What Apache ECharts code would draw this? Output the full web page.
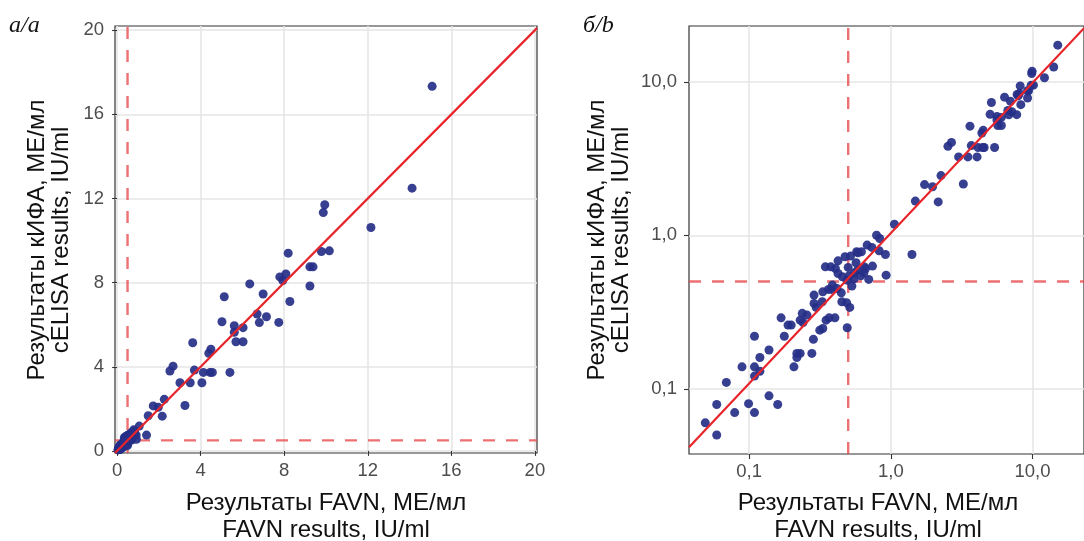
<!DOCTYPE html>
<html>
<head>
<meta charset="utf-8">
<script src="https://cdn.jsdelivr.net/npm/echarts@6/dist/echarts.min.js"></script>
<style>
  html, body { margin: 0; padding: 0; background: #ffffff; }
  #chart { width: 1084px; height: 541px; }
</style>
</head>
<body>
<div id="chart"></div>
<script>
// FAVN (x) vs cELISA (y) results, IU/ml — one sample per index
const favn = [
  15.08, 14.12, 9.94, 9.87, 12.15, 8.19, 9.78, 10.16, 9.23, 9.38,
  7.79, 8.08, 7.93, 6.35, 9.23, 6.99, 5.13, 8.27, 6.70, 7.15,
  6.81, 7.74, 5.02, 5.61, 6.03, 5.61, 5.69, 6.03, 3.62, 4.49,
  4.39, 2.68, 2.53, 3.70, 4.13, 4.45, 4.56, 5.40, 3.01, 3.50,
  4.06, 2.26, 1.73, 1.97, 3.25, 2.16, 1.49, 1.06, 1.41,
  0.049, 0.059, 0.059, 0.069, 0.079, 0.099, 0.109, 0.089, 0.109, 0.109,
  0.109, 0.119, 0.119, 0.138, 0.138, 0.159, 0.168, 0.177, 0.188, 0.198,
  0.207, 0.217, 0.229, 0.217, 0.229, 0.237, 0.256, 0.240, 0.277, 0.284,
  0.287, 0.287, 0.297, 0.315, 0.331, 0.328, 0.331, 0.345, 0.349, 0.367,
  0.377, 0.363, 0.380, 0.403, 0.417, 0.424, 0.406, 0.424, 0.447, 0.451,
  0.455, 0.475, 0.487, 0.492, 0.513, 0.508, 0.520, 0.531, 0.554, 0.568,
  0.574, 0.587, 0.620, 0.614, 0.646, 0.663, 0.680, 0.698, 0.742, 0.793,
  0.835, 0.827, 0.916, 0.926, 0.734, 0.583, 0.647, 0.500, 0.550, 0.490,
  0.387
];
const elisa = [
  17.33, 12.49, 11.70, 11.33, 10.62, 9.40, 9.48, 9.51, 8.75, 8.75,
  8.27, 8.41, 8.10, 7.94, 7.84, 7.46, 7.33, 7.10, 6.51, 6.38,
  6.10, 6.11, 6.14, 5.95, 5.86, 5.64, 5.19, 5.19, 5.14, 4.83,
  4.64, 4.03, 3.80, 3.84, 3.73, 3.73, 3.73, 3.73, 3.24, 3.24,
  3.24, 2.45, 2.14, 2.07, 2.16, 1.65, 1.67, 1.18, 0.75,
  0.060, 0.050, 0.079, 0.110, 0.070, 0.080, 0.070, 0.139, 0.220, 0.139,
  0.121, 0.160, 0.130, 0.179, 0.090, 0.079, 0.290, 0.220, 0.260, 0.260,
  0.139, 0.170, 0.170, 0.160, 0.280, 0.310, 0.302, 0.270, 0.170, 0.210,
  0.408, 0.360, 0.339, 0.241, 0.247, 0.369, 0.428, 0.623, 0.280, 0.290,
  0.623, 0.444, 0.444, 0.290, 0.450, 0.682, 0.608, 0.564, 0.422, 0.369,
  0.537, 0.725, 0.364, 0.250, 0.339, 0.545, 0.732, 0.467, 0.570, 0.662,
  0.781, 0.770, 0.781, 0.545, 0.570, 0.608, 0.863, 0.516, 0.630, 1.000,
  0.953, 0.793, 0.750, 0.550, 0.834, 0.593, 0.624, 0.618, 0.520, 0.510,
  0.474
];

// tick positions of both panels
const linTicks = [0, 4, 8, 12, 16, 20];
const logTicks = [0.1, 1, 10];

// positivity cut-off, IU/ml
const cutoff = 0.5;

// regression of log10(cELISA) on log10(FAVN), panel б
const fitSlope = 0.979;
const fitIntercept = 0.014;

// axis ranges
const linRange = { xMin: -0.1, xMax: 20.1, yMin: -0.1, yMax: 20.2 };
const logRange = { min: 0.0376, max: 23.1 };

const points = favn.map((v, i) => [v, elisa[i]]);
const fitAt = (x) => Math.pow(10, fitIntercept + fitSlope * Math.log10(x));

const tickColor = '#333333';
const labelColor = '#4d4d4d';
const gridColor = '#e6e6e6';
const dotColor = '#262f88';
const fitColor = '#e8242a';
const cutColor = 'rgba(232, 72, 76, 0.78)';
const sans = '"Liberation Sans", Arial, sans-serif';
const serif = '"Liberation Serif", "Times New Roman", serif';
const titleFont = '24px ' + sans;

function commaFmt(v) {
  return Number(v).toFixed(1).replace('.', ',');
}

function axisParts(ticks, fmt, labelMargin) {
  return {
    axisLine: { show: false },
    axisTick: { show: true, length: 5, customValues: ticks, lineStyle: { color: tickColor, width: 1.1 } },
    axisLabel: { customValues: ticks, color: labelColor, fontSize: 18.5, fontFamily: sans, margin: labelMargin, formatter: fmt },
    splitLine: { show: true, lineStyle: { color: gridColor, width: 1.6 } }
  };
}

function valueAxis(gridIndex, range, labelMargin) {
  return Object.assign({ gridIndex, type: 'value', min: range[0], max: range[1] },
    axisParts(linTicks, (v) => String(v), labelMargin));
}

function logAxis(gridIndex, labelMargin) {
  return Object.assign({ gridIndex, type: 'log', logBase: 10, min: logRange.min, max: logRange.max },
    axisParts(logTicks, commaFmt, labelMargin));
}

const chart = echarts.init(document.getElementById('chart'), null, { renderer: 'canvas' });

chart.setOption({
  animation: false,
  backgroundColor: '#ffffff',
  grid: [
    { left: 115, top: 26, width: 422, height: 427, show: true, borderColor: '#333333', borderWidth: 1.2, backgroundColor: 'transparent' },
    { left: 689, top: 26, width: 416, height: 428, show: true, borderColor: '#333333', borderWidth: 1.2, backgroundColor: 'transparent' }
  ],
  xAxis: [
    valueAxis(0, [linRange.xMin, linRange.xMax], 8),
    logAxis(1, 8)
  ],
  yAxis: [
    valueAxis(0, [linRange.yMin, linRange.yMax], 11),
    logAxis(1, 12)
  ],
  series: [
    // cut-off lines, panel а
    {
      type: 'line', xAxisIndex: 0, yAxisIndex: 0, silent: true, showSymbol: false, z: 1,
      data: [[cutoff, linRange.yMin], [cutoff, linRange.yMax]],
      lineStyle: { color: cutColor, width: 2.4, type: [12, 11] }
    },
    {
      type: 'line', xAxisIndex: 0, yAxisIndex: 0, silent: true, showSymbol: false, z: 1,
      data: [[linRange.xMin, cutoff], [linRange.xMax, cutoff]],
      lineStyle: { color: cutColor, width: 2.4, type: [12, 11] }
    },
    // cut-off lines, panel б
    {
      type: 'line', xAxisIndex: 1, yAxisIndex: 1, silent: true, showSymbol: false, z: 1,
      data: [[cutoff, logRange.min], [cutoff, logRange.max]],
      lineStyle: { color: cutColor, width: 2.4, type: [12, 11] }
    },
    {
      type: 'line', xAxisIndex: 1, yAxisIndex: 1, silent: true, showSymbol: false, z: 1,
      data: [[logRange.min, cutoff], [logRange.max, cutoff]],
      lineStyle: { color: cutColor, width: 2.4, type: [12, 11] }
    },
    // samples
    {
      type: 'scatter', xAxisIndex: 0, yAxisIndex: 0, z: 2,
      data: points, symbolSize: 9,
      itemStyle: { color: dotColor, opacity: 0.92 }
    },
    {
      type: 'scatter', xAxisIndex: 1, yAxisIndex: 1, z: 2,
      data: points, symbolSize: 9,
      itemStyle: { color: dotColor, opacity: 0.92 }
    },
    // line of equality, panel а
    {
      type: 'line', xAxisIndex: 0, yAxisIndex: 0, silent: true, showSymbol: false, z: 3, clip: true,
      data: [[linRange.xMin, linRange.xMin], [linRange.xMax, linRange.xMax]],
      lineStyle: { color: fitColor, width: 2.2 }
    },
    // fitted line, panel б
    {
      type: 'line', xAxisIndex: 1, yAxisIndex: 1, silent: true, showSymbol: false, z: 3, clip: true,
      data: [[logRange.min, fitAt(logRange.min)], [logRange.max, fitAt(logRange.max)]],
      lineStyle: { color: fitColor, width: 2.2 }
    }
  ],
  graphic: [
    { type: 'text', left: 9, top: 14, style: { text: 'а/a', font: 'italic 24px ' + serif, fill: '#111111' } },
    { type: 'text', left: 583, top: 14, style: { text: 'б/b', font: 'italic 24px ' + serif, fill: '#111111' } },
    // y titles
    { type: 'text', x: 37, y: 240, rotation: Math.PI / 2,
      style: { text: 'Результаты кИФА, МЕ/мл', font: titleFont, fill: '#111111', align: 'center', verticalAlign: 'middle' } },
    { type: 'text', x: 61, y: 240, rotation: Math.PI / 2,
      style: { text: 'cELISA results, IU/ml', font: titleFont, fill: '#111111', align: 'center', verticalAlign: 'middle' } },
    { type: 'text', x: 597, y: 240, rotation: Math.PI / 2,
      style: { text: 'Результаты кИФА, МЕ/мл', font: titleFont, fill: '#111111', align: 'center', verticalAlign: 'middle' } },
    { type: 'text', x: 621, y: 240, rotation: Math.PI / 2,
      style: { text: 'cELISA results, IU/ml', font: titleFont, fill: '#111111', align: 'center', verticalAlign: 'middle' } },
    // x titles
    { type: 'text', x: 326, y: 503,
      style: { text: 'Результаты FAVN, МЕ/мл', font: titleFont, fill: '#111111', align: 'center', verticalAlign: 'middle' } },
    { type: 'text', x: 326, y: 530,
      style: { text: 'FAVN results, IU/ml', font: titleFont, fill: '#111111', align: 'center', verticalAlign: 'middle' } },
    { type: 'text', x: 878, y: 503,
      style: { text: 'Результаты FAVN, МЕ/мл', font: titleFont, fill: '#111111', align: 'center', verticalAlign: 'middle' } },
    { type: 'text', x: 878, y: 530,
      style: { text: 'FAVN results, IU/ml', font: titleFont, fill: '#111111', align: 'center', verticalAlign: 'middle' } }
  ]
});
</script>
</body>
</html>
